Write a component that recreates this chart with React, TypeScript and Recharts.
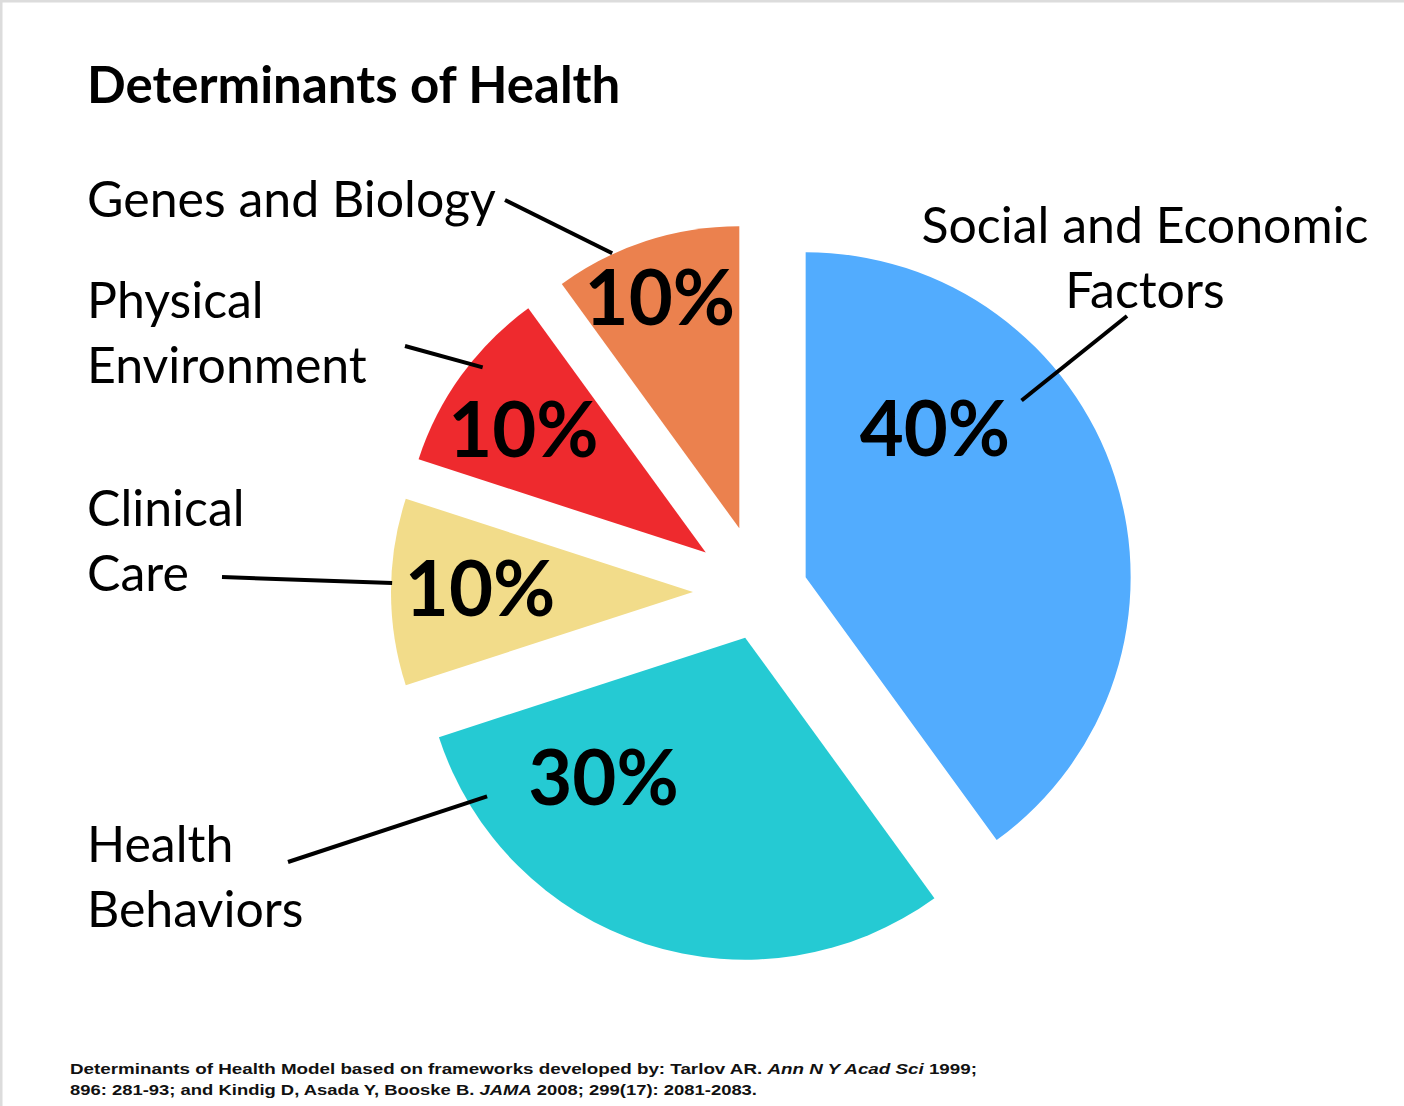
import { PieChart, Pie, Cell } from "recharts";

// data
const categories = [
  "Social and Economic Factors",
  "Health Behaviors",
  "Clinical Care",
  "Physical Environment",
  "Genes and Biology",
];
const shares = [40, 30, 10, 10, 10];
const nameLines = [
  ["Social and Economic", "Factors"],
  ["Health", "Behaviors"],
  ["Clinical", "Care"],
  ["Physical", "Environment"],
  ["Genes and Biology"],
];

const slices = categories.map((name, i) => ({ name, value: shares[i] }));

// styling / layout
const W = 1404;
const H = 1106;
const CX = 760;
const CY = 592;
const colors = ["#52ACFE", "#25CAD3", "#F2DC8A", "#EE2A2E", "#EB814E"];
const explode = [48, 48, 67, 67, 67];
const radius = [325, 322, 302, 302, 302];
// [angle in degrees, distance] from each slice's own centre
const pctPos = [
  [49, 197],
  [-135.4, 199],
  [179, 213],
  [146, 220],
  [109, 244],
];
const leaderIn = [
  [39.3, 279],
  [-148.4, 303],
  [178.3, 301],
  [140.3, 290],
  [114.8, 303],
];
const leaderOut = [
  [1127, 316],
  [288, 862],
  [222, 577],
  [405, 346],
  [505, 200],
];
const namePos = [
  { x: 1145, y: 243, anchor: "middle" },
  { x: 87, y: 862, anchor: "start" },
  { x: 87, y: 526, anchor: "start" },
  { x: 87, y: 318, anchor: "start" },
  { x: 87, y: 217, anchor: "start" },
];

const FONT = "Lato, 'Open Sans', sans-serif";
const RAD = Math.PI / 180;

const total = shares.reduce((a, b) => a + b, 0);
const midAngles = shares.map((v, i) => {
  const before = shares.slice(0, i).reduce((a, b) => a + b, 0);
  return 90 - (360 * (before + v / 2)) / total;
});

const polar = (cx: number, cy: number, deg: number, r: number) => ({
  x: cx + r * Math.cos(deg * RAD),
  y: cy - r * Math.sin(deg * RAD),
});

const makeLabel = (i: number) => (props: any) => {
  if (props.index !== i) return null;
  const { cx, cy } = props;
  const p = polar(cx, cy, pctPos[i][0], pctPos[i][1]);
  const a = polar(cx, cy, leaderIn[i][0], leaderIn[i][1]);
  return (
    <g>
      <line
        x1={leaderOut[i][0]}
        y1={leaderOut[i][1]}
        x2={a.x}
        y2={a.y}
        stroke="#000"
        strokeWidth={4}
      />
      <text
        x={p.x}
        y={p.y}
        dy="0.36em"
        textAnchor="middle"
        fontFamily={FONT}
        fontWeight={700}
        fontSize={76}
        fill="#000"
      >
        {shares[i]}%
      </text>
    </g>
  );
};

export default function App() {
  return (
    <div style={{ position: "relative", width: W, height: H, background: "#fff" }}>
      <style>{"body{margin:0}"}</style>
      <PieChart width={W} height={H} margin={{ top: 0, right: 0, bottom: 0, left: 0 }}>
        {slices.map((_, i) => {
          const c = polar(CX, CY, midAngles[i], explode[i]);
          return (
            <Pie
              key={i}
              data={slices}
              dataKey="value"
              nameKey="name"
              cx={c.x}
              cy={c.y}
              innerRadius={0}
              outerRadius={radius[i]}
              startAngle={90}
              endAngle={-270}
              stroke="none"
              label={makeLabel(i)}
              labelLine={false}
              isAnimationActive={false}
            >
              {slices.map((s, j) => (
                <Cell key={s.name} fill={j === i ? colors[i] : "transparent"} />
              ))}
            </Pie>
          );
        })}
      </PieChart>
      <svg
        width={W}
        height={H}
        style={{ position: "absolute", left: 0, top: 0, pointerEvents: "none" }}
      >
        <line x1={0} y1={1} x2={W} y2={1} stroke="#dcdcdc" strokeWidth={3} />
        <line x1={1} y1={0} x2={1} y2={H} stroke="#dcdcdc" strokeWidth={3} />
        <text x={87} y={103} fontFamily={FONT} fontWeight={700} fontSize={51} fill="#000">
          Determinants of Health
        </text>
        {nameLines.map((lines, i) =>
          lines.map((t, k) => (
            <text
              key={i + "-" + k}
              x={namePos[i].x}
              y={namePos[i].y + k * 65}
              textAnchor={namePos[i].anchor as any}
              fontFamily={FONT}
              fontSize={50}
              fill="#000"
            >
              {t}
            </text>
          )),
        )}
        <text
          x={70}
          y={1074}
          fontFamily="'Liberation Sans Narrow', 'Liberation Sans', Arial, sans-serif"
          fontWeight={700}
          fontSize={15}
          textLength={907}
          lengthAdjust="spacingAndGlyphs"
          fill="#111"
        >
          Determinants of Health Model based on frameworks developed by: Tarlov AR.{"  "}
          <tspan fontStyle="italic">Ann N Y Acad Sci</tspan> 1999;
        </text>
        <text
          x={70}
          y={1095}
          fontFamily="'Liberation Sans Narrow', 'Liberation Sans', Arial, sans-serif"
          fontWeight={700}
          fontSize={15}
          textLength={687}
          lengthAdjust="spacingAndGlyphs"
          fill="#111"
        >
          896: 281-93; and Kindig D, Asada Y, Booske B. <tspan fontStyle="italic">JAMA</tspan> 2008;
          299(17): 2081-2083.
        </text>
      </svg>
    </div>
  );
}
